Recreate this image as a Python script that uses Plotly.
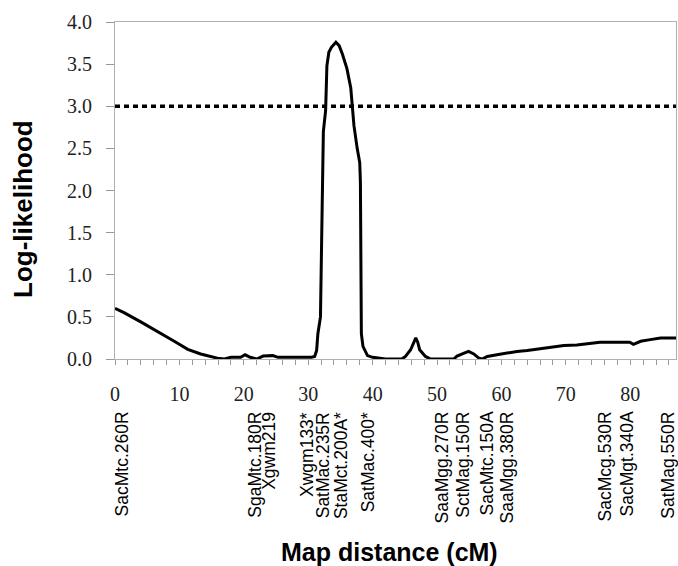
import plotly.graph_objects as go

# Curve: map distance (cM) vs log-likelihood
dist_cm = [0, 1.4, 4.0, 6.6, 9.2, 11.3, 13.3, 15.9, 17.0, 18.0, 19.5, 20.2, 21.0, 22.0,
           23.0, 24.5, 25.3, 27.0, 29.0, 30.5, 31.0, 31.3, 31.5, 31.9, 32.0, 32.2, 32.35,
           32.7, 32.9, 33.2, 33.6, 34.3, 34.8, 35.3, 36.0, 36.6, 37.1, 37.6, 38.0, 38.1,
           38.15, 38.25, 38.5, 39.2, 40.0, 41.0, 42.0, 44.5, 45.1, 45.9, 46.4, 46.7, 47.0,
           47.3, 48.2, 49.0, 52.6, 53.1, 54.2, 54.9, 55.7, 56.5, 57.0, 57.8, 59.3, 60.9,
           62.4, 64.0, 65.5, 67.6, 69.7, 71.7, 73.8, 75.3, 77.3, 79.9, 80.5, 81.6, 83.1,
           84.7, 87.1]
log_lik = [0.60, 0.55, 0.44, 0.32, 0.21, 0.115, 0.06, 0.01, 0.0, 0.02, 0.02, 0.05, 0.02, 0.0,
           0.035, 0.04, 0.02, 0.02, 0.02, 0.02, 0.03, 0.1, 0.3, 0.5, 1.0, 2.0, 2.7,
           2.95, 3.48, 3.64, 3.70, 3.76, 3.72, 3.62, 3.45, 3.22, 2.77, 2.5, 2.33, 2.1,
           0.8, 0.3, 0.15, 0.04, 0.02, 0.01, 0.0, 0.0, 0.03, 0.11, 0.2, 0.25, 0.2,
           0.11, 0.03, 0.0, 0.0, 0.035, 0.07, 0.09, 0.06, 0.01, 0.0, 0.03, 0.05, 0.07,
           0.09, 0.10, 0.115, 0.14, 0.16, 0.167, 0.19, 0.2, 0.2, 0.2, 0.175, 0.21, 0.23,
           0.25, 0.25]

threshold = 3.0

marker_names = ["SacMtc.260R", "SgaMtc.180R", "Xgwm219", "Xwgm133*", "SatMac.235R",
                "StaMct.200A*", "SatMac.400*", "SaaMgg.270R", "SctMag.150R", "SacMtc.150A",
                "SaaMgg.380R", "SacMcg.530R", "SacMgt.340A", "SatMag.550R"]
marker_pos = [1.1, 21.7, 23.9, 29.9, 32.2, 35.2, 39.2, 50.7, 54.0, 57.7, 60.8, 76.0, 79.5, 85.9]

x_range = [0, 87.1]
y_range = [0, 4.0]

fig = go.Figure()
fig.add_trace(go.Scatter(x=x_range, y=[threshold, threshold], mode="lines",
                         line=dict(color="black", width=3.5, dash="5px,4px"),
                         hoverinfo="skip", showlegend=False))
fig.add_trace(go.Scatter(x=dist_cm, y=log_lik, mode="lines",
                         line=dict(color="black", width=3), showlegend=False))

tick_font = dict(family="Liberation Serif, Times New Roman, serif", size=20, color="#222")
fig.update_xaxes(range=x_range, dtick=10, tick0=0, ticks="outside", ticklen=5,
                 tickcolor="#999", tickwidth=1, showline=True, linecolor="#b0b0b0",
                 linewidth=1, mirror=True, showgrid=False, zeroline=False,
                 tickfont=tick_font, ticklabelstandoff=12,
                 minor=dict(dtick=2, ticks="outside", ticklen=5, tickcolor="#999", showgrid=False))
fig.update_yaxes(range=y_range, dtick=0.5, tick0=0, tickformat=".1f", ticks="outside",
                 ticklen=8, tickcolor="#999", tickwidth=1, showline=True, linecolor="#b0b0b0",
                 linewidth=1, mirror=True, showgrid=False, zeroline=False,
                 tickfont=tick_font, ticklabelstandoff=10)

annotations = []
for name, pos in zip(marker_names, marker_pos):
    annotations.append(dict(x=pos, xref="x", y=-0.151, yref="paper", text=name,
                            textangle=-90, showarrow=False, xanchor="center", yanchor="top",
                            font=dict(family="Liberation Sans, Arial, sans-serif", size=17.5,
                                      color="black")))
annotations.append(dict(x=0.49, xref="paper", y=-0.573, yref="paper", text="<b>Map distance (cM)</b>",
                        showarrow=False, xanchor="center", yanchor="middle",
                        font=dict(family="Liberation Sans, Arial, sans-serif", size=25, color="black")))
annotations.append(dict(x=-0.163, xref="paper", y=0.444, yref="paper", text="<b>Log-likelihood</b>",
                        textangle=-90, showarrow=False, xanchor="center", yanchor="middle",
                        font=dict(family="Liberation Sans, Arial, sans-serif", size=26, color="black")))

fig.update_layout(width=678, height=566, margin=dict(l=115, r=2, t=22, b=207),
                  plot_bgcolor="white", paper_bgcolor="white", annotations=annotations)

# remove the page's default body margin so the figure fills the window exactly
fig.write_html("out.html", config={"displayModeBar": False},
               post_script="document.body.style.margin='0';document.body.style.overflow='hidden';")
